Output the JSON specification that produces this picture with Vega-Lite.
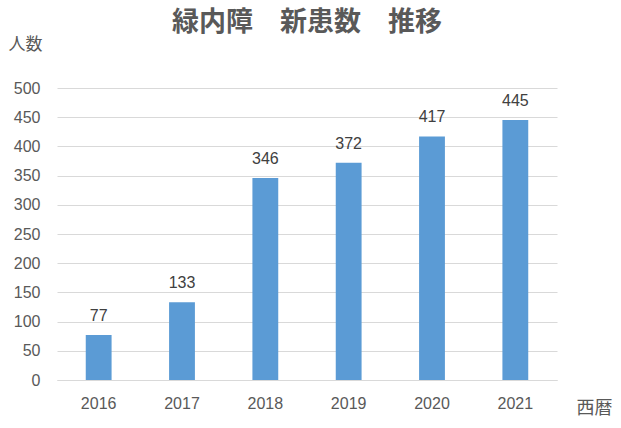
{
  "$schema": "https://vega.github.io/schema/vega-lite/v6.json",
  "width": 500,
  "height": 292,
  "autosize": {"type": "none"},
  "padding": {"left": 57, "top": 88, "right": 64, "bottom": 48},
  "background": "white",
  "config": {
    "view": {"stroke": null},
    "font": "Noto Sans CJK JP"
  },
  "title": {
    "text": "緑内障　新患数　推移",
    "fontSize": 27,
    "fontWeight": "bold",
    "color": "#595959",
    "anchor": "middle",
    "baseline": "bottom",
    "offset": -29,
    "font": "Noto Sans CJK JP"
  },
  "data": {
    "values": [
      {"year": "2016", "count": 77},
      {"year": "2017", "count": 133},
      {"year": "2018", "count": 346},
      {"year": "2019", "count": 372},
      {"year": "2020", "count": 417},
      {"year": "2021", "count": 445}
    ]
  },
  "encoding": {
    "x": {
      "field": "year",
      "type": "nominal",
      "scale": {"paddingInner": 0.69, "paddingOuter": 0.345},
      "axis": {
        "title": "西暦",
        "titleFontSize": 18,
        "titleFontWeight": "normal",
        "titleColor": "#595959",
        "titleAngle": 0,
        "titleAlign": "left",
        "titleBaseline": "middle",
        "titleX": 519,
        "titleY": 28,
        "labelAngle": 0,
        "labelFontSize": 16,
        "labelColor": "#595959",
        "labelPadding": 15,
        "labelFont": "Liberation Sans",
        "ticks": false,
        "domainColor": "#D9D9D9",
        "domainWidth": 1
      }
    },
    "y": {
      "field": "count",
      "type": "quantitative",
      "scale": {"domain": [0, 500]},
      "axis": {
        "values": [0, 50, 100, 150, 200, 250, 300, 350, 400, 450, 500],
        "title": "人数",
        "titleFontSize": 17,
        "titleFontWeight": "normal",
        "titleColor": "#595959",
        "titleAngle": 0,
        "titleAlign": "left",
        "titleBaseline": "middle",
        "titleX": -49,
        "titleY": -44,
        "labelFontSize": 16,
        "labelColor": "#595959",
        "labelPadding": 17,
        "labelFont": "Liberation Sans",
        "ticks": false,
        "domain": false,
        "gridColor": "#D9D9D9",
        "gridWidth": 1
      }
    }
  },
  "layer": [
    {"mark": {"type": "bar", "color": "#5B9BD5"}},
    {
      "mark": {"type": "text", "baseline": "bottom", "dy": -11, "fontSize": 16, "color": "#404040", "font": "Liberation Sans"},
      "encoding": {"text": {"field": "count", "type": "quantitative"}}
    }
  ]
}
